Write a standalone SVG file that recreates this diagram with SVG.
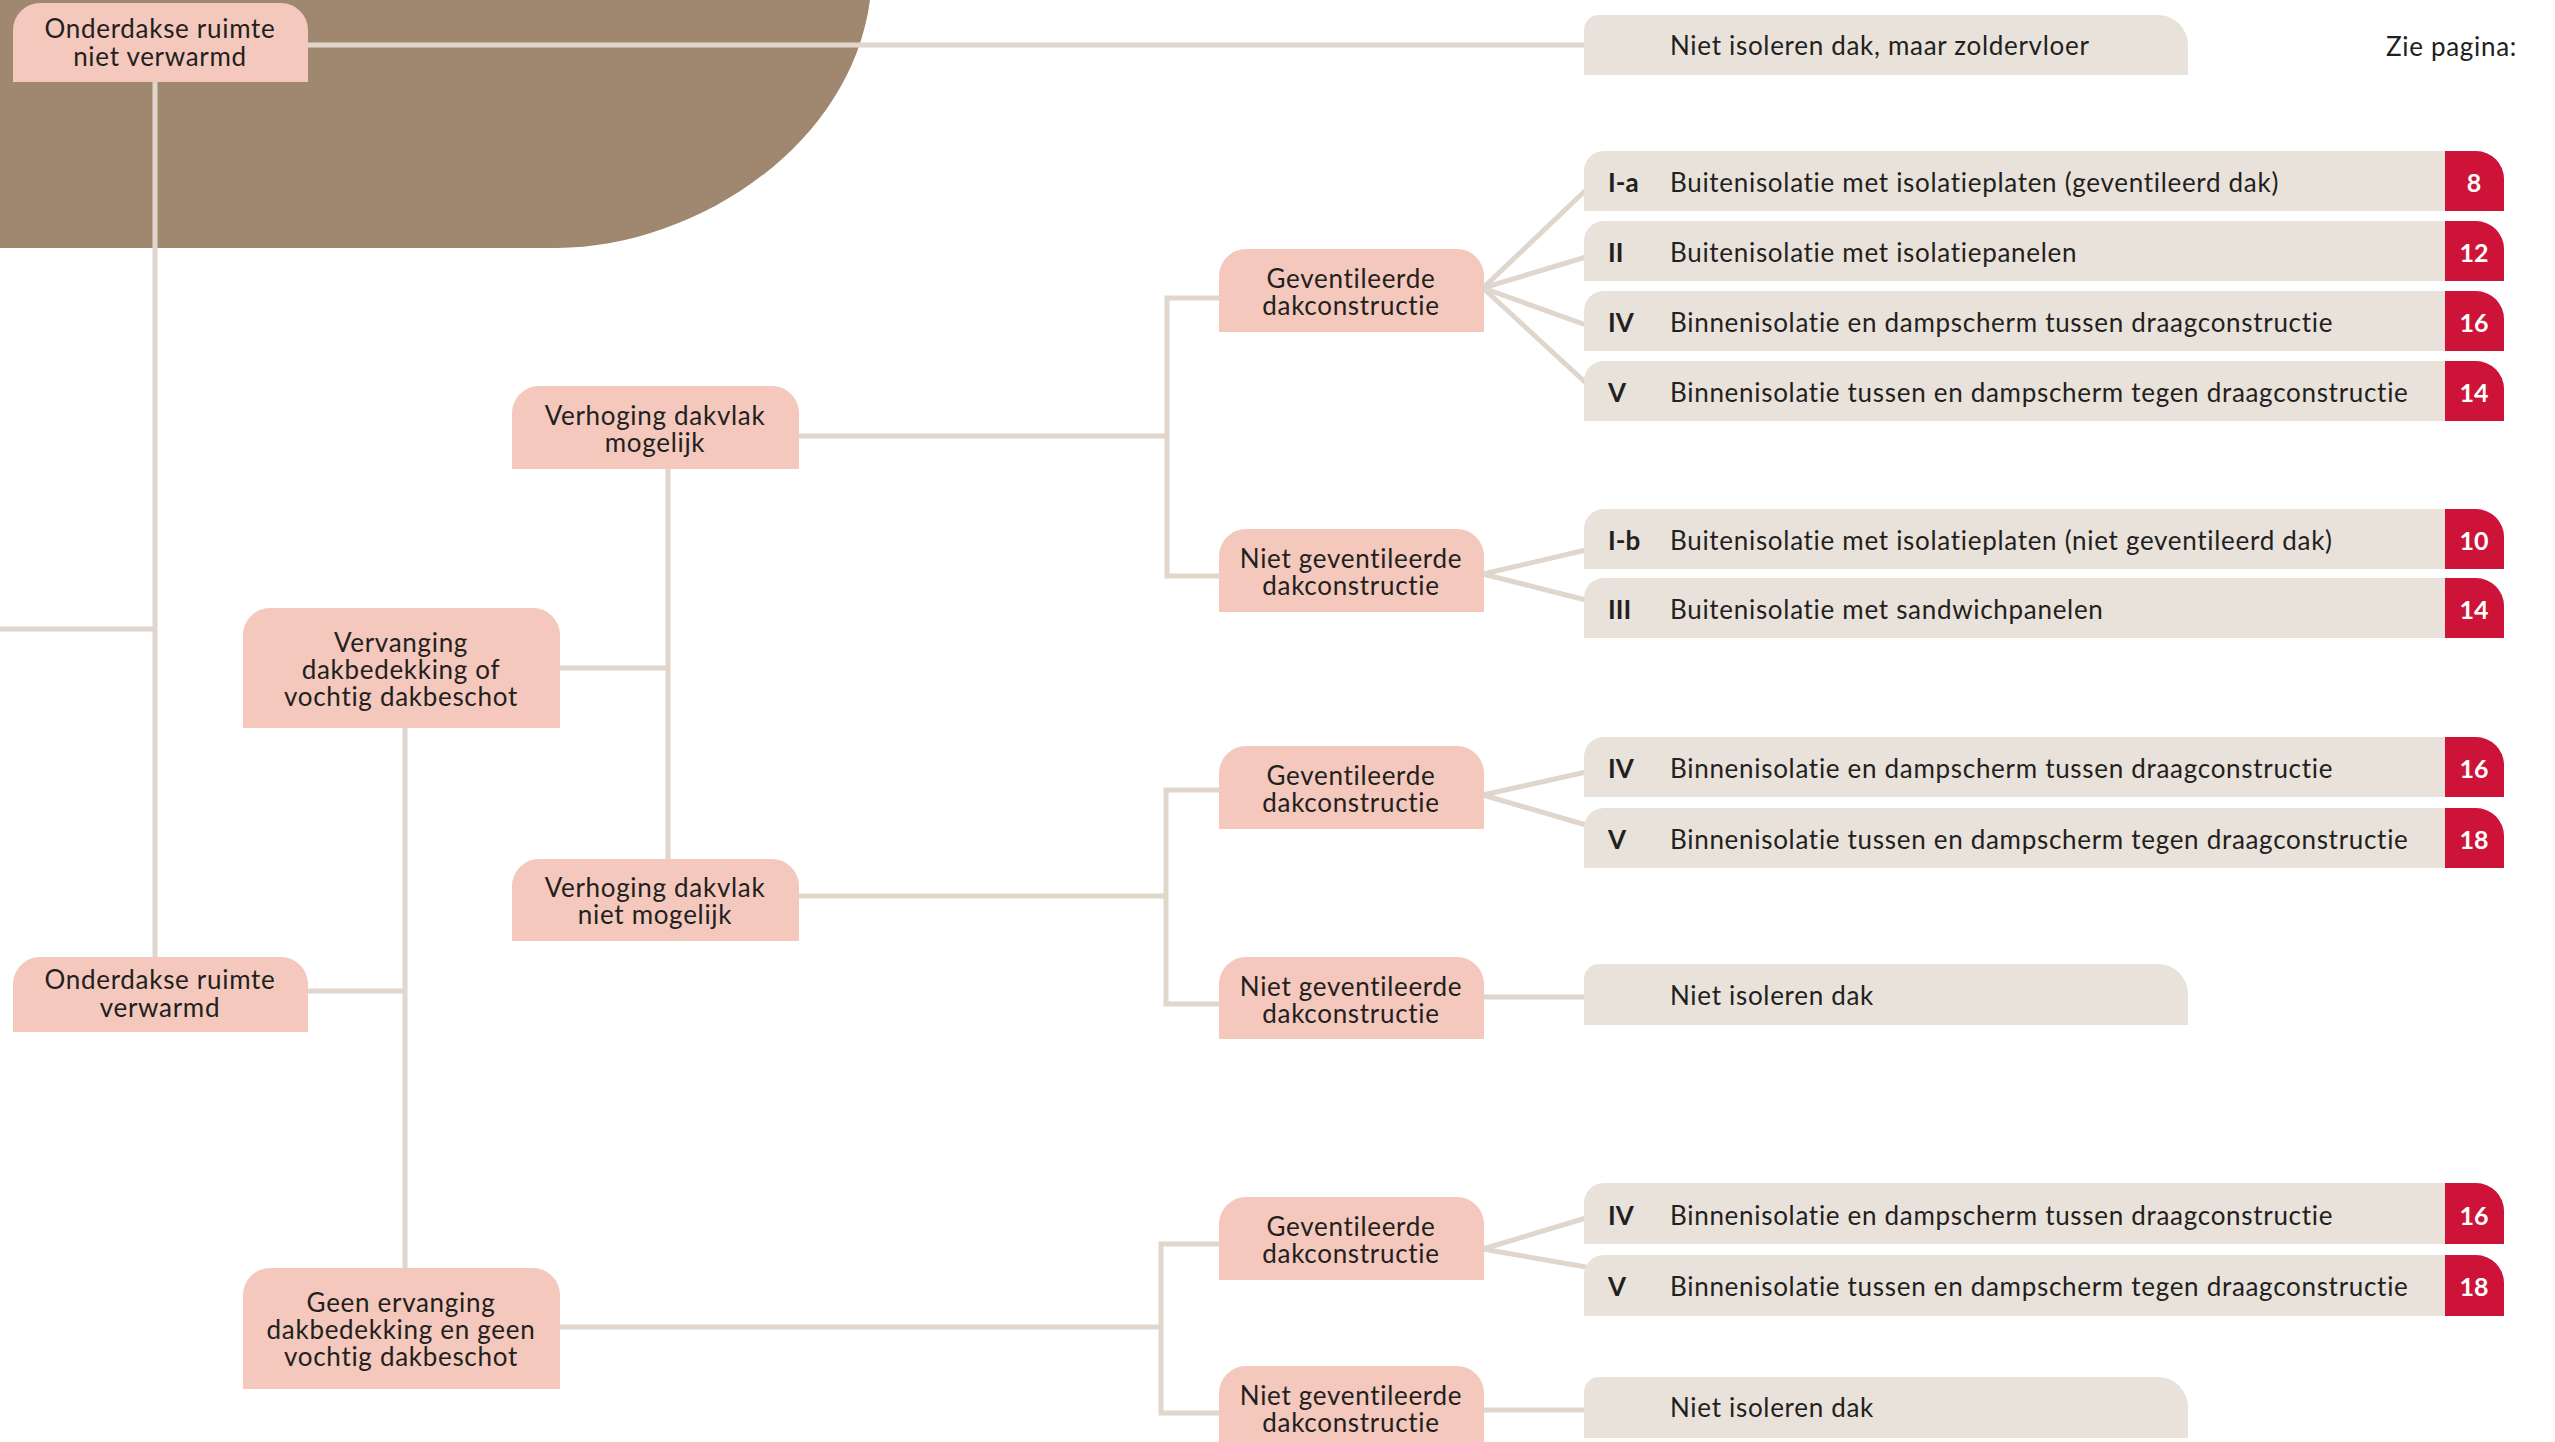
<svg xmlns="http://www.w3.org/2000/svg" width="2555" height="1442" viewBox="0 0 2555 1442">
<style>
.bg{fill:#ffffff}
.brown{fill:#a08870}
.pink{fill:#f4c8bc}
.beige{fill:#e8e2db}
.red{fill:#cd1337}
.ln{stroke:#e0d6cb;stroke-width:5;fill:none}
.t{font-family:Lato,"Liberation Sans",sans-serif;font-size:26px;letter-spacing:0.7px;fill:#231f20}
.c{text-anchor:middle}
.b{font-weight:bold;letter-spacing:0}
.n{font-family:Lato,"Liberation Sans",sans-serif;font-size:25px;font-weight:bold;fill:#ffffff;text-anchor:middle}
</style>
<rect class="bg" x="0" y="0" width="2555" height="1442"/>
<path class="brown" d="M0,0 H870 C850,150 690,248 557,248 H0 Z"/>
<g id="connectors">
<path class="ln" d="M308,45 H1586"/>
<path class="ln" d="M155,82 V957"/>
<path class="ln" d="M0,629 H155"/>
<path class="ln" d="M308,991 H405"/>
<path class="ln" d="M405,728 V1268"/>
<path class="ln" d="M560,668 H668"/>
<path class="ln" d="M668,469 V859"/>
<path class="ln" d="M799,436 H1167"/>
<path class="ln" d="M1221,298 H1167 V576 H1221"/>
<path class="ln" d="M799,896 H1166"/>
<path class="ln" d="M1221,790 H1166 V1004 H1221"/>
<path class="ln" d="M560,1327 H1161"/>
<path class="ln" d="M1221,1244 H1161 V1413 H1221"/>
<path class="ln" d="M1586,190 L1483,288 L1586,257 M1483,288 L1586,325 M1483,288 L1586,383"/>
<path class="ln" d="M1586,550 L1483,574 L1586,600"/>
<path class="ln" d="M1586,772 L1483,795 L1586,825"/>
<path class="ln" d="M1482,997 H1586"/>
<path class="ln" d="M1586,1218 L1483,1249 L1586,1267"/>
<path class="ln" d="M1482,1410 H1586"/>
</g>
<g id="n-onderdakse-niet-verwarmd">
<path class="pink" d="M13,82 V30 A27,27 0 0 1 40,3 H281 A27,27 0 0 1 308,30 V82 Z"/>
<text class="t c" x="160" y="38">Onderdakse ruimte</text>
<text class="t c" x="160" y="66">niet verwarmd</text>
</g>
<g id="n-onderdakse-verwarmd">
<path class="pink" d="M13,1032 V984 A27,27 0 0 1 40,957 H281 A27,27 0 0 1 308,984 V1032 Z"/>
<text class="t c" x="160" y="989">Onderdakse ruimte</text>
<text class="t c" x="160" y="1017">verwarmd</text>
</g>
<g id="n-vervanging">
<path class="pink" d="M243,728 V635 A27,27 0 0 1 270,608 H533 A27,27 0 0 1 560,635 V728 Z"/>
<text class="t c" x="401" y="652">Vervanging</text>
<text class="t c" x="401" y="679">dakbedekking of</text>
<text class="t c" x="401" y="706">vochtig dakbeschot</text>
</g>
<g id="n-verhoging-mogelijk">
<path class="pink" d="M512,469 V413 A27,27 0 0 1 539,386 H772 A27,27 0 0 1 799,413 V469 Z"/>
<text class="t c" x="655" y="425">Verhoging dakvlak</text>
<text class="t c" x="655" y="452">mogelijk</text>
</g>
<g id="n-verhoging-niet-mogelijk">
<path class="pink" d="M512,941 V886 A27,27 0 0 1 539,859 H772 A27,27 0 0 1 799,886 V941 Z"/>
<text class="t c" x="655" y="897">Verhoging dakvlak</text>
<text class="t c" x="655" y="924">niet mogelijk</text>
</g>
<g id="n-geen-vervanging">
<path class="pink" d="M243,1389 V1295 A27,27 0 0 1 270,1268 H533 A27,27 0 0 1 560,1295 V1389 Z"/>
<text class="t c" x="401" y="1312">Geen ervanging</text>
<text class="t c" x="401" y="1339">dakbedekking en geen</text>
<text class="t c" x="401" y="1366">vochtig dakbeschot</text>
</g>
<g id="n-gev-1">
<path class="pink" d="M1219,332 V276 A27,27 0 0 1 1246,249 H1457 A27,27 0 0 1 1484,276 V332 Z"/>
<text class="t c" x="1351" y="288">Geventileerde</text>
<text class="t c" x="1351" y="315">dakconstructie</text>
</g>
<g id="n-nietgev-1">
<path class="pink" d="M1219,612 V556 A27,27 0 0 1 1246,529 H1457 A27,27 0 0 1 1484,556 V612 Z"/>
<text class="t c" x="1351" y="568">Niet geventileerde</text>
<text class="t c" x="1351" y="595">dakconstructie</text>
</g>
<g id="n-gev-2">
<path class="pink" d="M1219,829 V773 A27,27 0 0 1 1246,746 H1457 A27,27 0 0 1 1484,773 V829 Z"/>
<text class="t c" x="1351" y="785">Geventileerde</text>
<text class="t c" x="1351" y="812">dakconstructie</text>
</g>
<g id="n-nietgev-2">
<path class="pink" d="M1219,1039 V984 A27,27 0 0 1 1246,957 H1457 A27,27 0 0 1 1484,984 V1039 Z"/>
<text class="t c" x="1351" y="996">Niet geventileerde</text>
<text class="t c" x="1351" y="1023">dakconstructie</text>
</g>
<g id="n-gev-3">
<path class="pink" d="M1219,1280 V1224 A27,27 0 0 1 1246,1197 H1457 A27,27 0 0 1 1484,1224 V1280 Z"/>
<text class="t c" x="1351" y="1236">Geventileerde</text>
<text class="t c" x="1351" y="1263">dakconstructie</text>
</g>
<g id="n-nietgev-3">
<path class="pink" d="M1219,1449 V1393 A27,27 0 0 1 1246,1366 H1457 A27,27 0 0 1 1484,1393 V1449 Z"/>
<text class="t c" x="1351" y="1405">Niet geventileerde</text>
<text class="t c" x="1351" y="1432">dakconstructie</text>
</g>
<g id="r-zolder">
<path class="beige" d="M1584,75 V30 A15,15 0 0 1 1599,15 H2158 A30,30 0 0 1 2188,45 V75 Z"/>
<text class="t" x="1670" y="55">Niet isoleren dak, maar zoldervloer</text>
</g>
<text id="zie-pagina" class="t" x="2517" y="56" text-anchor="end">Zie pagina:</text>
<g id="r-Ia">
<path class="beige" d="M1584,211 V171 A20,20 0 0 1 1604,151 H2446 V211 Z"/>
<path class="red" d="M2445,211 V151 H2476 A28,28 0 0 1 2504,179 V211 Z"/>
<text class="t b" x="1608" y="192">I-a</text>
<text class="t" x="1670" y="192">Buitenisolatie met isolatieplaten (geventileerd dak)</text>
<text class="n" x="2474" y="192">8</text>
</g>
<g id="r-II">
<path class="beige" d="M1584,281 V241 A20,20 0 0 1 1604,221 H2446 V281 Z"/>
<path class="red" d="M2445,281 V221 H2476 A28,28 0 0 1 2504,249 V281 Z"/>
<text class="t b" x="1608" y="262">II</text>
<text class="t" x="1670" y="262">Buitenisolatie met isolatiepanelen</text>
<text class="n" x="2474" y="262">12</text>
</g>
<g id="r-IV-1">
<path class="beige" d="M1584,351 V311 A20,20 0 0 1 1604,291 H2446 V351 Z"/>
<path class="red" d="M2445,351 V291 H2476 A28,28 0 0 1 2504,319 V351 Z"/>
<text class="t b" x="1608" y="332">IV</text>
<text class="t" x="1670" y="332">Binnenisolatie en dampscherm tussen draagconstructie</text>
<text class="n" x="2474" y="332">16</text>
</g>
<g id="r-V-1">
<path class="beige" d="M1584,421 V381 A20,20 0 0 1 1604,361 H2446 V421 Z"/>
<path class="red" d="M2445,421 V361 H2476 A28,28 0 0 1 2504,389 V421 Z"/>
<text class="t b" x="1608" y="402">V</text>
<text class="t" x="1670" y="402">Binnenisolatie tussen en dampscherm tegen draagconstructie</text>
<text class="n" x="2474" y="402">14</text>
</g>
<g id="r-Ib">
<path class="beige" d="M1584,569 V529 A20,20 0 0 1 1604,509 H2446 V569 Z"/>
<path class="red" d="M2445,569 V509 H2476 A28,28 0 0 1 2504,537 V569 Z"/>
<text class="t b" x="1608" y="550">I-b</text>
<text class="t" x="1670" y="550">Buitenisolatie met isolatieplaten (niet geventileerd dak)</text>
<text class="n" x="2474" y="550">10</text>
</g>
<g id="r-III">
<path class="beige" d="M1584,638 V598 A20,20 0 0 1 1604,578 H2446 V638 Z"/>
<path class="red" d="M2445,638 V578 H2476 A28,28 0 0 1 2504,606 V638 Z"/>
<text class="t b" x="1608" y="619">III</text>
<text class="t" x="1670" y="619">Buitenisolatie met sandwichpanelen</text>
<text class="n" x="2474" y="619">14</text>
</g>
<g id="r-IV-2">
<path class="beige" d="M1584,797 V757 A20,20 0 0 1 1604,737 H2446 V797 Z"/>
<path class="red" d="M2445,797 V737 H2476 A28,28 0 0 1 2504,765 V797 Z"/>
<text class="t b" x="1608" y="778">IV</text>
<text class="t" x="1670" y="778">Binnenisolatie en dampscherm tussen draagconstructie</text>
<text class="n" x="2474" y="778">16</text>
</g>
<g id="r-V-2">
<path class="beige" d="M1584,868 V828 A20,20 0 0 1 1604,808 H2446 V868 Z"/>
<path class="red" d="M2445,868 V808 H2476 A28,28 0 0 1 2504,836 V868 Z"/>
<text class="t b" x="1608" y="849">V</text>
<text class="t" x="1670" y="849">Binnenisolatie tussen en dampscherm tegen draagconstructie</text>
<text class="n" x="2474" y="849">18</text>
</g>
<g id="r-niet-1">
<path class="beige" d="M1584,1025 V979 A15,15 0 0 1 1599,964 H2158 A30,30 0 0 1 2188,994 V1025 Z"/>
<text class="t" x="1670" y="1005">Niet isoleren dak</text>
</g>
<g id="r-IV-3">
<path class="beige" d="M1584,1244 V1203 A20,20 0 0 1 1604,1183 H2446 V1244 Z"/>
<path class="red" d="M2445,1244 V1183 H2476 A28,28 0 0 1 2504,1211 V1244 Z"/>
<text class="t b" x="1608" y="1225">IV</text>
<text class="t" x="1670" y="1225">Binnenisolatie en dampscherm tussen draagconstructie</text>
<text class="n" x="2474" y="1225">16</text>
</g>
<g id="r-V-3">
<path class="beige" d="M1584,1316 V1275 A20,20 0 0 1 1604,1255 H2446 V1316 Z"/>
<path class="red" d="M2445,1316 V1255 H2476 A28,28 0 0 1 2504,1283 V1316 Z"/>
<text class="t b" x="1608" y="1296">V</text>
<text class="t" x="1670" y="1296">Binnenisolatie tussen en dampscherm tegen draagconstructie</text>
<text class="n" x="2474" y="1296">18</text>
</g>
<g id="r-niet-2">
<path class="beige" d="M1584,1438 V1392 A15,15 0 0 1 1599,1377 H2158 A30,30 0 0 1 2188,1407 V1438 Z"/>
<text class="t" x="1670" y="1417">Niet isoleren dak</text>
</g>
</svg>
